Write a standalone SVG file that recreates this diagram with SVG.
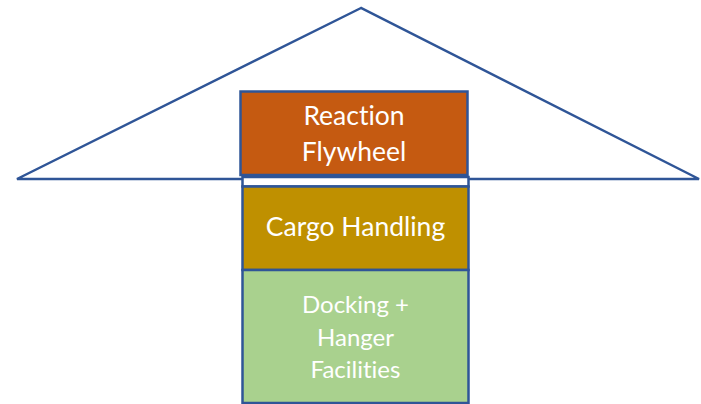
<svg xmlns="http://www.w3.org/2000/svg" width="701" height="404" viewBox="0 0 701 404">
<style>
.ln{fill:none;stroke:#2F5597;stroke-width:2.5;stroke-linejoin:miter}
.bx{stroke:#2F5597;stroke-width:2.5}
.t{font-family:Lato,"Open Sans",sans-serif;font-size:26.5px;fill:#FFFFFF;text-anchor:middle;font-variant-ligatures:none}
.s{font-size:24px}
</style>
<rect width="701" height="404" fill="#FFFFFF"/>
<g id="roof">
<polygon class="ln" points="361,8 17,179 699,179"/>
</g>
<g id="strip">
<rect class="bx" x="242.5" y="177" width="226" height="9.5" fill="#FFFFFF"/>
</g>
<g id="reaction-flywheel">
<rect class="bx" x="240.5" y="91.5" width="227" height="83.5" fill="#C55A11"/>
<text class="t" x="354" y="125">Reaction</text>
<text class="t" x="354" y="161">Flywheel</text>
</g>
<g id="cargo-handling">
<rect class="bx" x="242.5" y="186.5" width="226" height="83.5" fill="#BF9000"/>
<text class="t" x="355.5" y="236">Cargo Handling</text>
</g>
<g id="docking">
<rect class="bx" x="242.5" y="270" width="226" height="133" fill="#A9D18E"/>
<text class="t s" x="355.5" y="313">Docking +</text>
<text class="t s" x="355.5" y="346">Hanger</text>
<text class="t s" x="355.5" y="378">Facilities</text>
</g>
<g id="connectors"></g>
</svg>
